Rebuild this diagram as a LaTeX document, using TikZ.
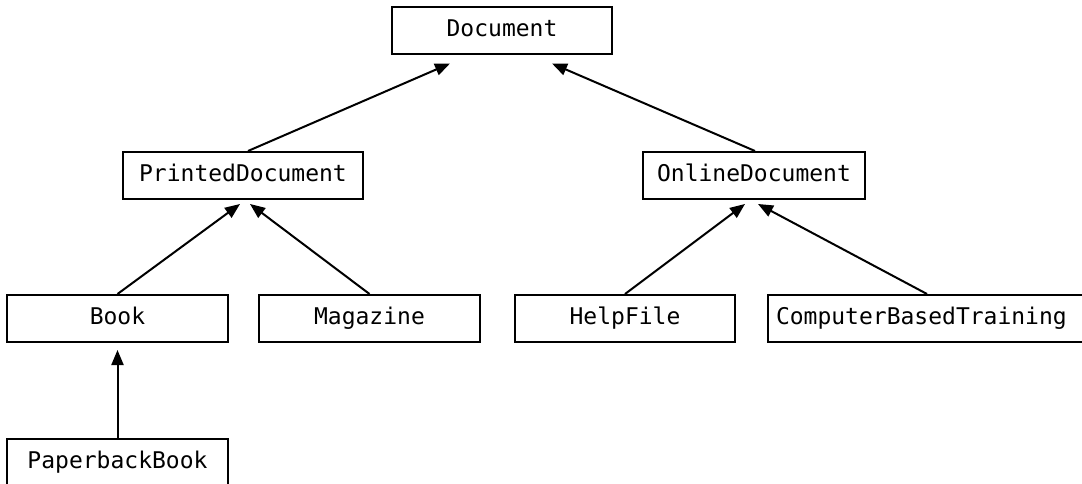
\documentclass[tikz,border=0pt]{standalone}
\usepackage{fontspec}
\setmonofont{DejaVu Sans Mono}
\usetikzlibrary{arrows.meta}
\begin{document}
\begin{tikzpicture}[x=1pt,y=-1pt,
  cls/.style={draw, line width=2pt, font=\ttfamily\fontsize{23}{28}\selectfont,
    minimum height=47pt, inner sep=0pt, text height=17pt, text depth=5pt},
  inherit/.style={line width=2pt, -{Triangle[length=15pt,width=12pt]}}]
\clip (0,0) rectangle (1082,484);
\fill[white] (0,0) rectangle (1082,484);

% class boxes
\node[cls, minimum width=220pt] (doc) at (502,31) {Document};
\node[cls, minimum width=240pt] (printed) at (243,175.5) {PrintedDocument};
\node[cls, minimum width=222pt] (online) at (754,175.5) {OnlineDocument};
\node[cls, minimum width=221pt] (book) at (117.5,318.5) {Book};
\node[cls, minimum width=221pt] (magazine) at (369.5,318.5) {Magazine};
\node[cls, minimum width=220pt] (helpfile) at (625,318.5) {HelpFile};
\node[cls, anchor=west, text width=310pt, align=left, inner xsep=8pt] (cbt) at (767,318.5) {ComputerBasedTraining};
\node[cls, minimum width=221pt] (paperback) at (117.5,462) {PaperbackBook};

% inheritance arrows, child to parent
\draw[inherit] ([xshift=5pt]printed.north) -- ([xshift=-52pt,yshift=-8pt]doc.south);
\draw[inherit] ([xshift=1pt]online.north) -- ([xshift=50pt,yshift=-8pt]doc.south);
\draw[inherit] (book.north) -- ([xshift=-3pt,yshift=-4pt]printed.south);
\draw[inherit] (magazine.north) -- ([xshift=7pt,yshift=-4pt]printed.south);
\draw[inherit] (helpfile.north) -- ([xshift=-9pt,yshift=-4pt]online.south);
\draw[inherit] ([xshift=-4pt]cbt.north) -- ([xshift=4pt,yshift=-4pt]online.south);
\draw[inherit] (paperback.north) -- ([yshift=-7pt]book.south);
\end{tikzpicture}
\end{document}
